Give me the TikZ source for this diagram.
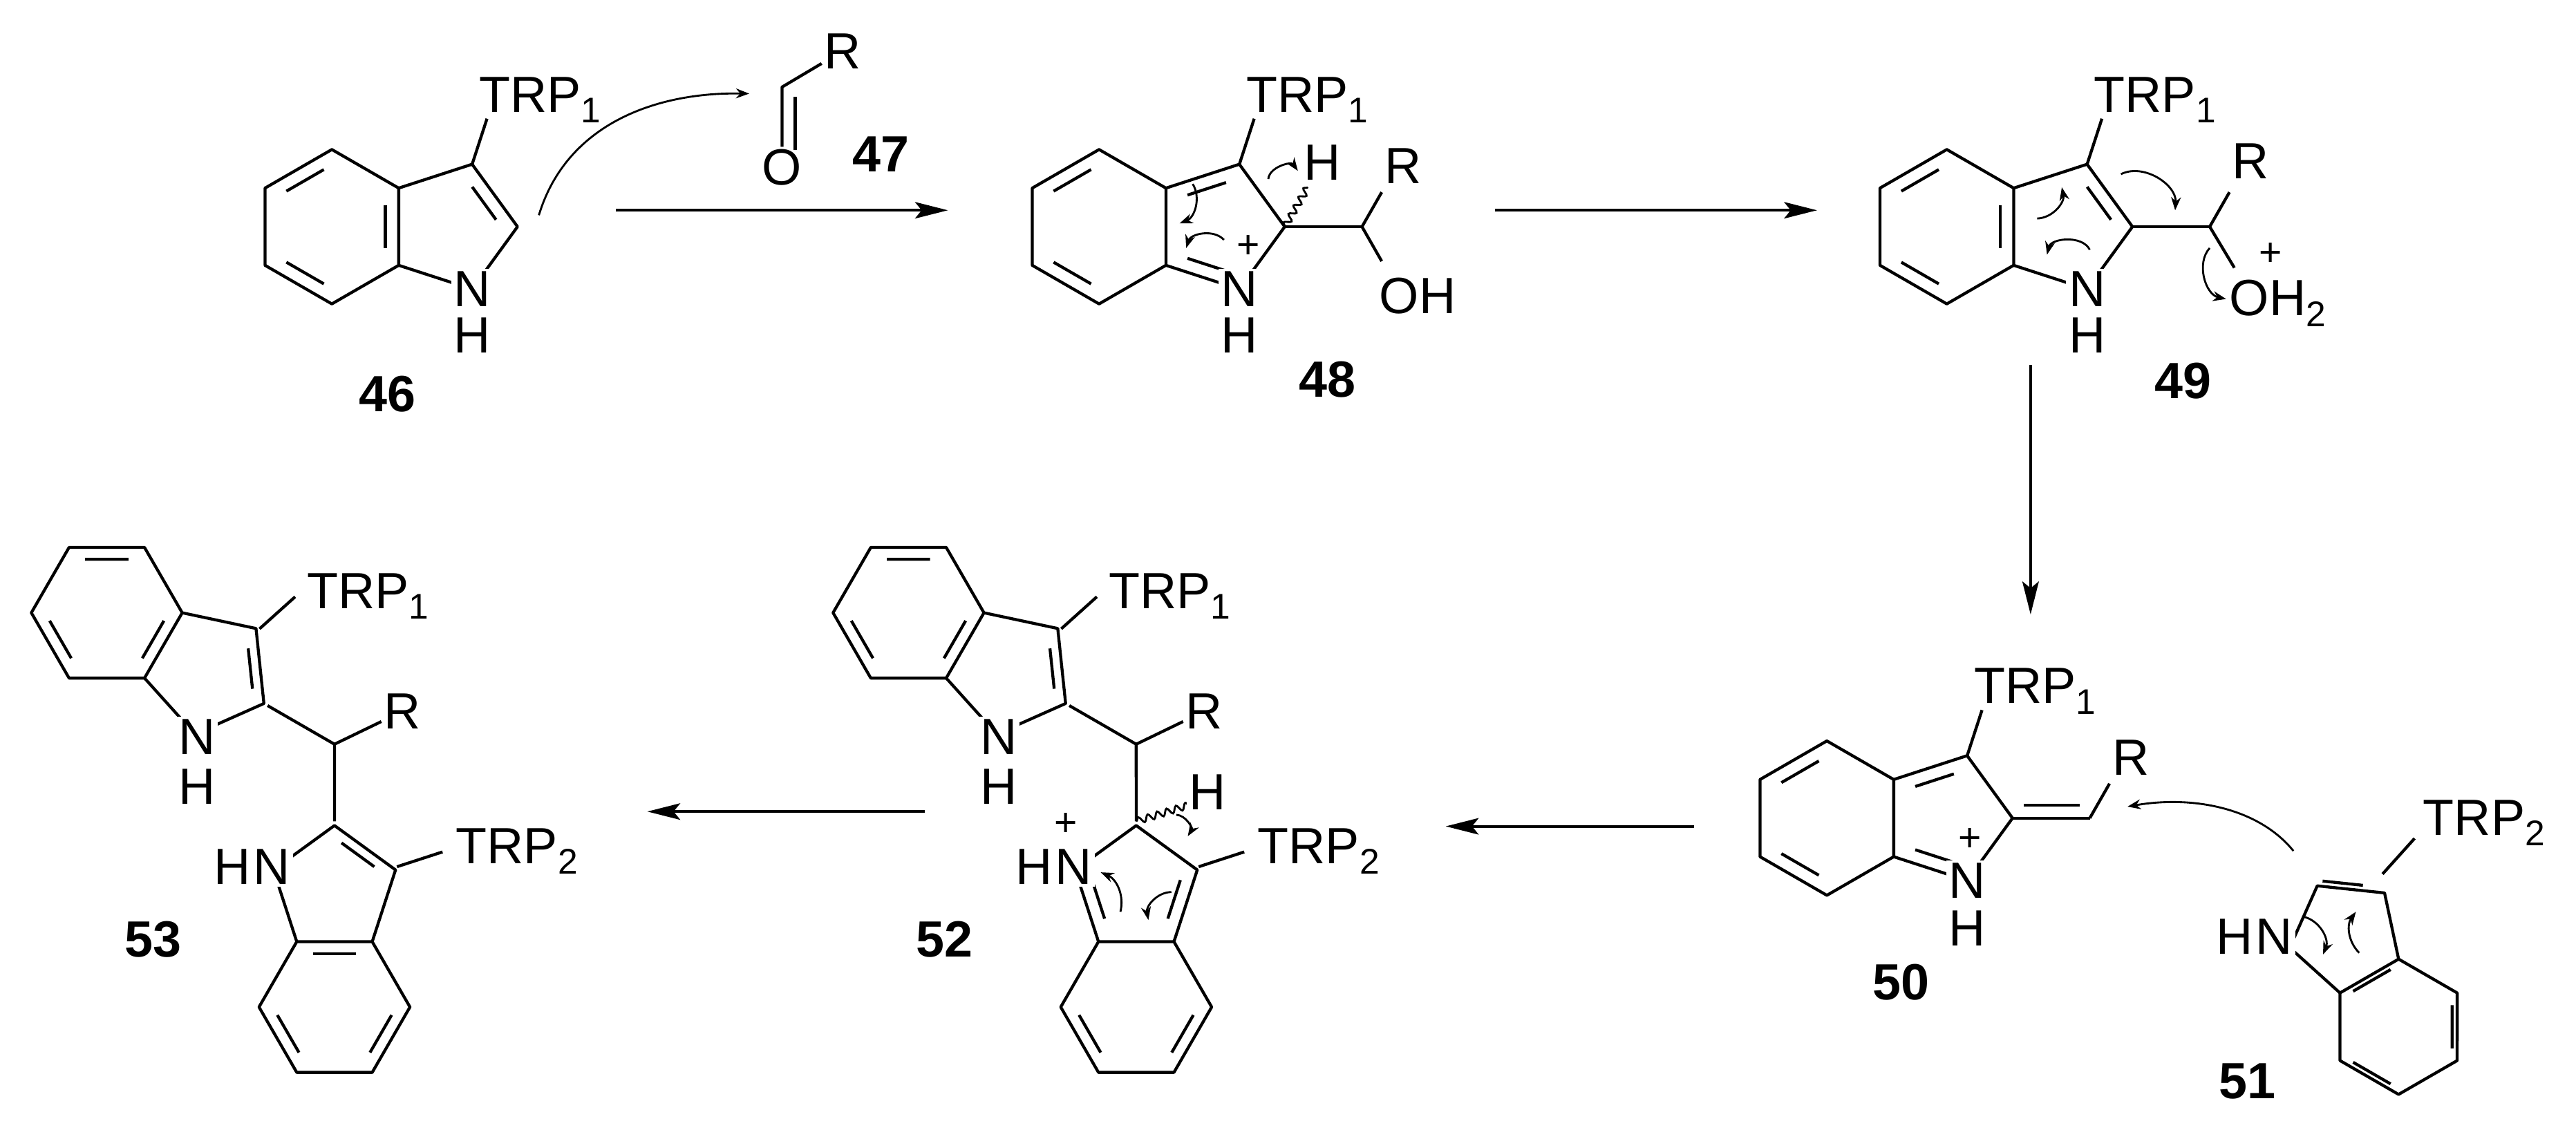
\documentclass[tikz,border=0pt]{standalone}
\usepackage{fontspec}
\setmainfont{Liberation Sans}
\usetikzlibrary{calc,arrows.meta,decorations.pathmorphing}
\newcommand\labf{\fontsize{31}{33}\selectfont}
\newcommand\numf{\fontsize{31}{33}\selectfont\bfseries}
\newcommand\plf{\fontsize{24}{26}\selectfont}
\newcommand\indskel[1]{%
 \coordinate (#1-3a) at (0.866,0.5);
 \coordinate (#1-4) at (0,1);
 \coordinate (#1-5) at (-0.866,0.5);
 \coordinate (#1-6) at (-0.866,-0.5);
 \coordinate (#1-7) at (0,-1);
 \coordinate (#1-7a) at (0.866,-0.5);
 \coordinate (#1-3) at (1.817,0.809);
 \coordinate (#1-2) at (2.405,0);
 \coordinate (#1-1) at (1.817,-0.809);
 \coordinate (#1-hc) at (0,0);
 \coordinate (#1-pc) at (1.554,0);
 \coordinate (#1-s3) at (2.009,1.399);
 \coordinate (#1-s2) at (3.405,0);
 \draw[bond] (#1-3a)--(#1-4)--(#1-5)--(#1-6)--(#1-7)--(#1-7a)--cycle;
 \draw[bond] (#1-3a)--(#1-3)--(#1-2)--(#1-1)--(#1-7a);
}
\newcommand\dblh[3]{\draw[bond] ($(#1)!0.15!(#2)!0.2!(#3)$) -- ($(#2)!0.15!(#1)!0.2!(#3)$);}
\newcommand\dblp[3]{\draw[bond] ($(#1)!0.15!(#2)!0.25!(#3)$) -- ($(#2)!0.15!(#1)!0.25!(#3)$);}
\newcommand\neut[1]{\dblh{#1-3a}{#1-7a}{#1-hc}\dblh{#1-4}{#1-5}{#1-hc}\dblh{#1-6}{#1-7}{#1-hc}\dblp{#1-2}{#1-3}{#1-pc}}
\newcommand\imin[1]{\dblh{#1-4}{#1-5}{#1-hc}\dblh{#1-6}{#1-7}{#1-hc}\dblp{#1-3a}{#1-3}{#1-pc}\dblp{#1-1}{#1-7a}{#1-pc}}
\begin{document}
\begin{tikzpicture}[x=1pt,y=1pt,
 bond/.style={line width=1.8pt,line join=round},
 lab/.style={font=\labf,inner sep=1.5pt,fill=white},
 sublab/.style={font=\labf,inner sep=0pt},
 num/.style={font=\numf,inner sep=0pt},
 plus/.style={font=\plf,inner sep=0pt},
 mech/.style={line width=1.2pt,-{Stealth[length=8pt,width=6pt]}},
 rxn/.style={line width=1.7pt,-{Stealth[length=20pt,width=10pt,inset=4pt]}},
 wavy/.style={line width=1.2pt,decorate,decoration={snake,amplitude=2pt,segment length=6pt}}]
\useasboundingbox (0,0) rectangle (1568,-693);
\fill[white] (0,0) rectangle (1568,-693);

% ---------- 46 ----------
\begin{scope}[shift={(202,-138)},scale=47] \indskel{m46} \end{scope}
\neut{m46}
\draw[bond] (m46-3) -- (m46-s3);
\node[sublab,anchor=base west] (t46) at ($(m46-s3)+(-5,4)$) {TRP\textsubscript{1}};
\node[lab] (n46) at (m46-1) {N};
\node[lab] (h46) at ($(m46-1)+(0,-28)$) {H};
\node[num] (l46) at (236,-240) {46};

% ---------- 47 ----------
\coordinate (c47) at (476,-53);
\node[lab] (o47) at (476,-102) {O};
\node[lab] (r47) at (513,-31) {R};
\draw[bond] (r47) -- (c47) -- (o47);
\draw[bond] ($(c47)+(8,-6)$) -- ($(o47.north)+(8,-2)$);
\node[num] (l47) at (536,-94) {47};
\coordinate (a46s) at (328,-131);
\coordinate (a46e) at (456,-57);
\draw[mech] (a46s) .. controls (345,-75) and (400,-56) .. (a46e);

% arrows
\coordinate (r1s) at (375,-128); \coordinate (r1e) at (577,-128);
\draw[rxn] (r1s) -- (r1e);
\coordinate (r2s) at (910,-128); \coordinate (r2e) at (1106,-128);
\draw[rxn] (r2s) -- (r2e);
\coordinate (r3s) at (1236,-222); \coordinate (r3e) at (1236,-374);
\draw[rxn] (r3s) -- (r3e);
\coordinate (r4s) at (1031,-503); \coordinate (r4e) at (880,-503);
\draw[rxn] (r4s) -- (r4e);
\coordinate (r5s) at (563,-494); \coordinate (r5e) at (394,-494);
\draw[rxn] (r5s) -- (r5e);

% ---------- 48 ----------
\begin{scope}[shift={(669,-138)},scale=47] \indskel{m48} \end{scope}
\imin{m48}
\draw[bond] (m48-3) -- (m48-s3);
\node[sublab,anchor=base west] (t48) at ($(m48-s3)+(-5,4)$) {TRP\textsubscript{1}};
\coordinate (ch48) at (m48-s2);
\draw[bond] (m48-2) -- (ch48);
\draw[bond] (ch48) -- ($(ch48)+(12,21)$);
\draw[bond] (ch48) -- ($(ch48)+(12,-21)$);
\node[lab] (r48) at (854,-101) {R};
\node[lab,anchor=west] (oh48) at (838,-180) {OH};
\draw[wavy] (m48-2) -- (796,-114);
\node[lab] (hh48) at (805,-99) {H};
\node[lab] (n48) at (m48-1) {N};
\node[lab] (h48) at ($(m48-1)+(0,-28)$) {H};
\node[plus] (p48) at (760,-150) {+};
\draw[mech] (726,-112) to[bend left=50] (718,-136);
\draw[mech] (745,-146) to[bend right=60] (722,-151);
\draw[mech] (772,-109) to[bend left=70] (790,-104);
\node[num] (l48) at (808,-231) {48};

% ---------- 49 ----------
\begin{scope}[shift={(1185,-138)},scale=47] \indskel{m49} \end{scope}
\neut{m49}
\draw[bond] (m49-3) -- (m49-s3);
\node[sublab,anchor=base west] (t49) at ($(m49-s3)+(-5,4)$) {TRP\textsubscript{1}};
\coordinate (ch49) at (m49-s2);
\draw[bond] (m49-2) -- (ch49);
\draw[bond] (ch49) -- ($(ch49)+(12,21)$);
\draw[bond] (ch49) -- ($(ch49)+(15,-25)$);
\node[lab] (r49) at (1370,-98) {R};
\node[sublab,anchor=base west] (oh49) at (1357,-192) {OH\textsubscript{2}};
\node[plus] (p49) at (1382,-155) {+};
\node[lab] (n49) at (m49-1) {N};
\node[lab] (h49) at ($(m49-1)+(0,-28)$) {H};
\draw[mech] (1291,-106) to[bend left=60] (1324,-128);
\draw[mech] (1240,-133) to[bend right=50] (1255,-114);
\draw[mech] (1272,-152) to[bend right=70] (1246,-155);
\draw[mech] (1345,-151) to[bend right=60] (1355,-182);
\node[num] (l49) at (1329,-232) {49};

% ---------- 50 ----------
\begin{scope}[shift={(1112,-498)},scale=47] \indskel{m50} \end{scope}
\imin{m50}
\draw[bond] (m50-3) -- (m50-s3);
\node[sublab,anchor=base west] (t50) at ($(m50-s3)+(-5,4)$) {TRP\textsubscript{1}};
\coordinate (ch50) at (m50-s2);
\draw[bond] (m50-2) -- (ch50);
\draw[bond] ($(m50-2)+(7,8)$) -- ($(ch50)+(-6,8)$);
\draw[bond] (ch50) -- ($(ch50)+(12,21)$);
\node[lab] (r50) at (1297,-461) {R};
\node[lab] (n50) at (m50-1) {N};
\node[lab] (h50) at ($(m50-1)+(0,-29)$) {H};
\node[plus] (p50) at (1199,-511) {+};
\node[num] (l50) at (1157,-598) {50};
\coordinate (a51s) at (1396,-518);
\coordinate (a51e) at (1295,-491);
\draw[mech] (a51s) .. controls (1375,-492) and (1335,-484) .. (a51e);

% ---------- 51 ----------
\begin{scope}[shift={(1460,-625)},rotate=120,yscale=-1,scale=47] \indskel{m51} \end{scope}
\neut{m51}
\draw[bond] (m51-3) -- (m51-s3);
\node[sublab,anchor=base west] (t51) at ($(m51-s3)+(5,2)$) {TRP\textsubscript{2}};
\node[lab] (n51) at (m51-1) {N};
\node[lab,anchor=east,inner sep=0pt] (h51) at (n51.west) {H};
\draw[mech] (1402,-558) to[bend left=50] (1414,-581);
\draw[mech] (1436,-580) to[bend left=40] (1434,-555);
\node[num] (l51) at (1368,-658) {51};

% ---------- 52 ----------
\begin{scope}[shift={(553,-373)},rotate=-30,scale=47] \indskel{m52a} \end{scope}
\neut{m52a}
\begin{scope}[shift={(691.6,-613)},rotate=90,yscale=-1,scale=47] \indskel{m52b} \end{scope}
\imin{m52b}
\draw[bond] (m52a-3) -- (m52a-s3);
\node[sublab,anchor=base west] (t52a) at ($(m52a-s3)+(7,-7)$) {TRP\textsubscript{1}};
\draw[bond] (m52b-3) -- (m52b-s3);
\node[sublab,anchor=base west] (t52b) at ($(m52b-s3)+(8,-7)$) {TRP\textsubscript{2}};
\coordinate (ch52) at (m52a-s2);
\draw[bond] (m52a-2) -- (ch52) -- (m52b-2);
\node[lab] (r52) at (733,-433) {R};
\draw[bond] (ch52) -- (r52);
\node[lab] (n52a) at (m52a-1) {N};
\node[lab] (h52a) at ($(m52a-1)+(0,-30)$) {H};
\draw[wavy] (m52b-2) -- (724,-490);
\node[lab] (hh52) at (735,-482) {H};
\node[lab] (n52b) at (m52b-1) {N};
\node[lab,anchor=east,inner sep=0pt] (h52b) at (n52b.west) {H};
\node[plus] (p52) at (649,-502) {+};
\draw[mech] (716,-496) to[bend left=60] (723,-509);
\draw[mech] (682,-555) to[bend right=40] (670,-531);
\draw[mech] (713,-543) to[bend right=50] (699,-560);
\node[num] (l52) at (575,-572) {52};

% ---------- 53 ----------
\begin{scope}[shift={(65,-373)},rotate=-30,scale=47] \indskel{m53a} \end{scope}
\neut{m53a}
\begin{scope}[shift={(203.6,-613)},rotate=90,yscale=-1,scale=47] \indskel{m53b} \end{scope}
\neut{m53b}
\draw[bond] (m53a-3) -- (m53a-s3);
\node[sublab,anchor=base west] (t53a) at ($(m53a-s3)+(7,-7)$) {TRP\textsubscript{1}};
\draw[bond] (m53b-3) -- (m53b-s3);
\node[sublab,anchor=base west] (t53b) at ($(m53b-s3)+(8,-7)$) {TRP\textsubscript{2}};
\coordinate (ch53) at (m53a-s2);
\draw[bond] (m53a-2) -- (ch53) -- (m53b-2);
\node[lab] (r53) at (245,-433) {R};
\draw[bond] (ch53) -- (r53);
\node[lab] (n53a) at (m53a-1) {N};
\node[lab] (h53a) at ($(m53a-1)+(0,-30)$) {H};
\node[lab] (n53b) at (m53b-1) {N};
\node[lab,anchor=east,inner sep=0pt] (h53b) at (n53b.west) {H};
\node[num] (l53) at (93,-572) {53};
\end{tikzpicture}
\end{document}
